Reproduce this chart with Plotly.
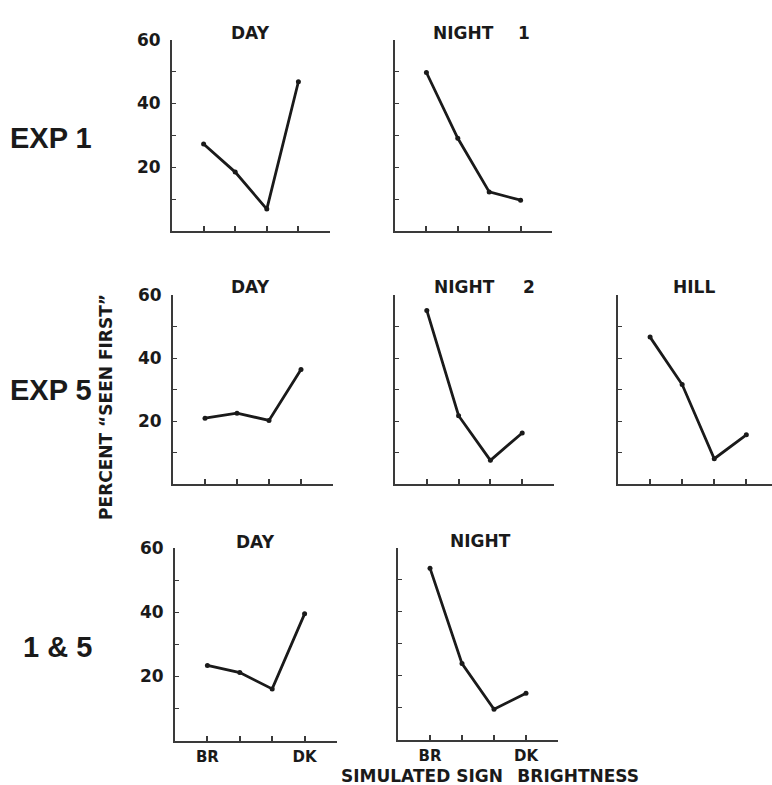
import plotly.graph_objects as go

# ---- data ----
brightness_levels = [1, 2, 3, 4]
brightness_labels = ["BR", "", "", "DK"]
y_tick_vals = [10, 20, 30, 40, 50, 60]
y_tick_text = ["", "20", "", "40", "", "60"]

exp1_day = [27.3, 18.5, 6.9, 46.8]
exp1_night1 = [49.7, 29.1, 12.3, 9.7]
exp5_day = [20.9, 22.5, 20.2, 36.4]
exp5_night2 = [55.2, 21.7, 7.5, 16.2]
exp5_hill = [46.7, 31.6, 8.0, 15.6]
both_day = [23.4, 21.2, 16.1, 39.5]
both_night = [53.7, 23.8, 9.5, 14.5]

panel_titles = ["DAY", "NIGHT", "DAY", "NIGHT", "HILL", "DAY", "NIGHT"]
panel_numbers = ["", "1", "", "2", "", "", ""]
row_labels = ["EXP 1", "EXP 5", "1 &amp; 5"]
y_title = 'PERCENT \u201cSEEN FIRST\u201d'
x_title = "SIMULATED SIGN \u2002BRIGHTNESS"

W, H = 772, 785
FONT = "DejaVu Sans"
INK = "#1a1a1a"
AX = "#3a3a3a"

def px(p):
    return p / W

def py(p):
    return 1 - p / H

# panel boxes in pixels: left, right, top(=60), bottom(=0), x-range max
boxes = [
    (172, 330, 30, 224, 5.0),
    (395, 552, 30, 224, 5.0),
    (173, 333, 289, 480, 5.0),
    (395, 554, 289, 480, 5.0),
    (618, 772, 289, 480, 4.8),
    (175, 337, 545, 740, 5.0),
    (398, 558, 545, 739, 5.0),
]
series = [exp1_day, exp1_night1, exp5_day, exp5_night2, exp5_hill, both_day, both_night]
labelled_y = [True, False, True, False, False, True, False]
labelled_x = [False, False, False, False, False, True, True]
title_pos = [(250, 23), (463, 23), (250, 281), (464, 281), (694, 281), (255, 539), (480, 538)]
number_pos = [None, (524, 23), None, (529, 281), None, None, None]

fig = go.Figure()
layout = dict(
    width=W, height=H,
    margin=dict(l=0, r=0, t=0, b=0),
    paper_bgcolor="white", plot_bgcolor="white",
    showlegend=False,
    font=dict(family=FONT, color=INK),
)

for i, (box, ys) in enumerate(zip(boxes, series)):
    n = i + 1
    l, r, t, b, xmax = box
    xa = "x" if n == 1 else f"x{n}"
    ya = "y" if n == 1 else f"y{n}"
    fig.add_trace(go.Scatter(
        x=brightness_levels, y=ys, xaxis=xa, yaxis=ya,
        mode="lines+markers",
        line=dict(color=INK, width=2.8),
        marker=dict(color=INK, size=5),
        hoverinfo="skip",
    ))
    layout[f"xaxis{'' if n == 1 else n}"] = dict(
        domain=[px(l), px(r)], range=[0, xmax], anchor=ya,
        showline=True, linecolor=AX, linewidth=2,
        showgrid=False, zeroline=False,
        tickmode="array", tickvals=brightness_levels,
        ticktext=brightness_labels if labelled_x[i] else ["", "", "", ""],
        ticks="inside", ticklen=5, tickwidth=1.5, tickcolor=AX,
        tickfont=dict(family=FONT, size=15, color=INK, weight="bold"),
        ticklabelstandoff=1,
        fixedrange=True,
    )
    layout[f"yaxis{'' if n == 1 else n}"] = dict(
        domain=[py(b), py(t)], range=[0, 60], anchor=xa,
        showline=True, linecolor=AX, linewidth=2,
        showgrid=False, zeroline=False,
        tickmode="array", tickvals=y_tick_vals,
        ticktext=y_tick_text if labelled_y[i] else [""] * 6,
        ticks="inside", ticklen=4, tickwidth=1.2, tickcolor=AX,
        tickfont=dict(family=FONT, size=17, color=INK, weight="bold"),
        ticklabelstandoff=6,
        fixedrange=True,
    )

annotations = []
for txt, (tx, ty) in zip(panel_titles, title_pos):
    annotations.append(dict(
        text=f"<b>{txt}</b>", x=px(tx), y=py(ty), xref="paper", yref="paper",
        showarrow=False, xanchor="center", yanchor="middle",
        font=dict(family=FONT, size=17, color=INK),
    ))
for num, pos in zip(panel_numbers, number_pos):
    if pos is None:
        continue
    annotations.append(dict(
        text=f"<b>{num}</b>", x=px(pos[0]), y=py(pos[1]), xref="paper", yref="paper",
        showarrow=False, xanchor="center", yanchor="middle",
        font=dict(family=FONT, size=17, color=INK),
    ))

for txt, ty in zip(row_labels, [130, 385, 645]):
    annotations.append(dict(
        text=f"<b>{txt}</b>", x=px(94), y=py(ty), xref="paper", yref="paper",
        showarrow=False, xanchor="right", yanchor="middle",
        font=dict(family="Liberation Sans", size=29, color=INK),
    ))

annotations.append(dict(
    text=f"<b>{y_title}</b>", x=px(106), y=py(402), xref="paper", yref="paper",
    showarrow=False, xanchor="center", yanchor="middle", textangle=-90,
    font=dict(family=FONT, size=17, color=INK),
))
annotations.append(dict(
    text=f"<b>{x_title}</b>", x=px(490), y=py(776), xref="paper", yref="paper",
    showarrow=False, xanchor="center", yanchor="middle",
    font=dict(family=FONT, size=17, color=INK),
))

layout["annotations"] = annotations
fig.update_layout(**layout)
fig.write_html(
    "out.html",
    config={"displayModeBar": False},
    post_script="document.body.style.margin='0';document.body.style.overflow='hidden';",
)
